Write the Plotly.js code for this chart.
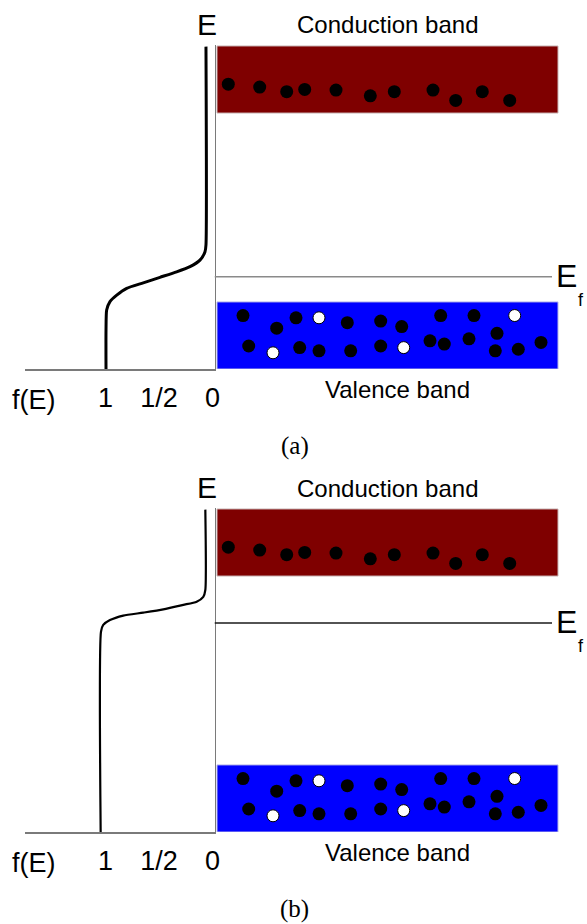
<!DOCTYPE html>
<html>
<head>
<meta charset="utf-8">
<script src="https://cdn.plot.ly/plotly-3.0.1.min.js"></script>
<style>html,body{margin:0;padding:0;background:#fff;}#chart{width:587px;height:924px;}</style>
</head>
<body>
<div id="chart"></div>
<script>
// ---- data ----
// f(E) axis ticks
const fTickVals = [1, 0.5, 0];
const fTickText = ['1', '1/2', '0'];

// Fermi-Dirac curve, panel (a): occupation f and energy E (arbitrary units, 0..10)
const curveA_f = [0.061, 0.061, 0.070, 0.117, 0.210, 0.335, 0.491, 0.647, 0.802, 0.895, 0.958, 0.989, 0.995, 0.995];
const curveA_E = [9.95, 3.83, 3.62, 3.36, 3.16, 3.00, 2.83, 2.66, 2.49, 2.28, 2.08, 1.82, 1.20, 0.0];

// Fermi-Dirac curve, panel (b)
const curveB_f = [0.067, 0.067, 0.086, 0.148, 0.273, 0.460, 0.647, 0.834, 0.958, 1.021, 1.042, 1.045];
const curveB_E = [9.95, 7.47, 7.26, 7.11, 7.01, 6.87, 6.77, 6.68, 6.54, 6.39, 6.18, 0.0];

// Band edges (energy) and horizontal extent (position units)
const condBandE = [7.90, 9.97];
const valBandE = [0.0, 2.07];
const bandX = [0.25, 34.35];
const fermiLevelA = 2.85;
const fermiLevelB = 6.45;
const fermiLineX = [0, 33.75];

// Electrons in conduction band
const condDotX = [1.38, 4.52, 7.22, 9.02, 12.15, 15.58, 17.98, 21.85, 24.12, 26.78, 29.52];
const condDotE = [8.79, 8.70, 8.56, 8.63, 8.61, 8.43, 8.56, 8.61, 8.29, 8.56, 8.29];

// Electrons in valence band
const valDotX = [2.85, 6.22, 8.15, 13.28, 16.62, 18.72, 22.62, 25.95, 28.25, 3.42, 8.52, 10.45, 13.62, 16.62, 21.55, 22.98, 25.45, 28.08, 30.38, 32.65];
const valDotE = [1.65, 1.26, 1.58, 1.43, 1.48, 1.31, 1.65, 1.65, 1.10, 0.71, 0.66, 0.56, 0.56, 0.71, 0.87, 0.77, 0.93, 0.56, 0.61, 0.82];

// Holes in valence band
const holeX = [10.45, 30.02, 5.85, 18.92];
const holeE = [1.58, 1.65, 0.50, 0.66];

// Text labels
const panelLabels = ['(a)', '(b)'];

// ---- figure ----
const W = 587, H = 924;
const sans = 'Liberation Sans, Arial, sans-serif';
const serif = 'Liberation Serif, DejaVu Serif, serif';

const panels = [
  {bottom: 369, top: 45, xf: 'x', y: 'y', xb: 'x2', curveF: curveA_f, curveE: curveA_E, curveW: 3, ef: fermiLevelA, efColor: '#8a8a8a', dy: 0},
  {bottom: 832, top: 508, xf: 'x3', y: 'y3', xb: 'x4', curveF: curveB_f, curveE: curveB_E, curveW: 2.2, ef: fermiLevelB, efColor: '#1a1a1a', dy: 463}
];

const traces = [];
const shapes = [];
const annotations = [];
const layout = {
  width: W, height: H,
  margin: {l: 0, r: 0, t: 0, b: 0},
  paper_bgcolor: '#fff', plot_bgcolor: 'rgba(0,0,0,0)',
  showlegend: false,
  shapes: shapes, annotations: annotations
};

function axName(ref) { return ref === 'x' ? 'xaxis' : ref === 'y' ? 'yaxis' : (ref[0] + 'axis' + ref.slice(1)); }

panels.forEach((p, i) => {
  const ydom = [1 - p.bottom / H, 1 - p.top / H];
  layout[axName(p.xf)] = {
    domain: [25 / W, 214.5 / W], range: [1.752, -0.0187], anchor: p.y,
    showline: true, linecolor: '#7a7a7a', linewidth: 1.5,
    showgrid: false, zeroline: false, ticks: '',
    tickvals: fTickVals, ticktext: fTickText,
    tickfont: {family: sans, size: 27, color: '#000'},
    ticklabelstandoff: 4
  };
  layout[axName(p.y)] = {
    domain: ydom, range: [0, 10], anchor: p.xf, side: 'right',
    showline: true, linecolor: '#7a7a7a', linewidth: 1.5,
    showgrid: false, zeroline: false, showticklabels: false, ticks: ''
  };
  layout[axName(p.xb)] = {
    domain: [214.5 / W, 1], range: [0, 37.25], anchor: p.y, visible: false
  };

  // bands
  shapes.push({type: 'rect', xref: p.xb, yref: p.y, x0: bandX[0], x1: bandX[1], y0: condBandE[0], y1: condBandE[1],
    fillcolor: '#7f0000', line: {color: '#c9b5b5', width: 1}, layer: 'below'});
  shapes.push({type: 'rect', xref: p.xb, yref: p.y, x0: bandX[0], x1: bandX[1], y0: valBandE[0], y1: valBandE[1],
    fillcolor: '#0000ff', line: {color: '#b5b5e8', width: 1}, layer: 'below'});
  // Fermi level
  shapes.push({type: 'line', xref: p.xb, yref: p.y, x0: fermiLineX[0], x1: fermiLineX[1], y0: p.ef, y1: p.ef,
    line: {color: p.efColor, width: 1.5}, layer: 'below'});
  // Fermi level label (anchored to the level through the axis scale)
  annotations.push({text: 'E', xref: p.xb, yref: p.y, x: fermiLineX[1], y: p.ef, xanchor: 'left', yanchor: 'middle',
    xshift: 2, yshift: 1, showarrow: false, font: {family: sans, size: 32, color: '#000'}});
  annotations.push({text: 'f', xref: p.xb, yref: p.y, x: fermiLineX[1], y: p.ef, xanchor: 'center', yanchor: 'middle',
    xshift: 29, yshift: -23, showarrow: false, font: {family: sans, size: 18, color: '#000'}});

  // Fermi-Dirac curve
  traces.push({type: 'scatter', mode: 'lines', x: p.curveF, y: p.curveE, xaxis: p.xf, yaxis: p.y,
    line: {color: '#000', width: p.curveW, shape: 'spline', smoothing: 0.6}, hoverinfo: 'skip'});
  // electrons
  traces.push({type: 'scatter', mode: 'markers', x: condDotX, y: condDotE, xaxis: p.xb, yaxis: p.y,
    marker: {color: '#000', size: 13, line: {width: 0}}, hoverinfo: 'skip'});
  traces.push({type: 'scatter', mode: 'markers', x: valDotX, y: valDotE, xaxis: p.xb, yaxis: p.y,
    marker: {color: '#000', size: 13, line: {width: 0}}, hoverinfo: 'skip'});
  traces.push({type: 'scatter', mode: 'markers', x: holeX, y: holeE, xaxis: p.xb, yaxis: p.y,
    marker: {color: '#fff', size: 12, line: {color: '#000', width: 1}}, hoverinfo: 'skip'});

  const d = p.dy;
  const ann = (text, x, y, font, extra) => annotations.push(Object.assign({
    text: text, xref: 'paper', yref: 'paper', x: x / W, y: 1 - y / H,
    xanchor: 'center', yanchor: 'middle', showarrow: false, font: font
  }, extra || {}));
  ann('E', 207, 24 + d, {family: sans, size: 30, color: '#000'});
  ann('Conduction band', 387, 25 + d, {family: sans, size: 24, color: '#000'});
  ann('Valence band', 397, 389 + d, {family: sans, size: 24, color: '#000'});
  ann('f(E)', 34, 400 + d, {family: sans, size: 27, color: '#000'});
  ann(panelLabels[i], 295, 446 + d, {family: serif, size: 25, color: '#000'});
});

Plotly.newPlot('chart', traces, layout, {staticPlot: true, displayModeBar: false});
</script>
</body>
</html>
